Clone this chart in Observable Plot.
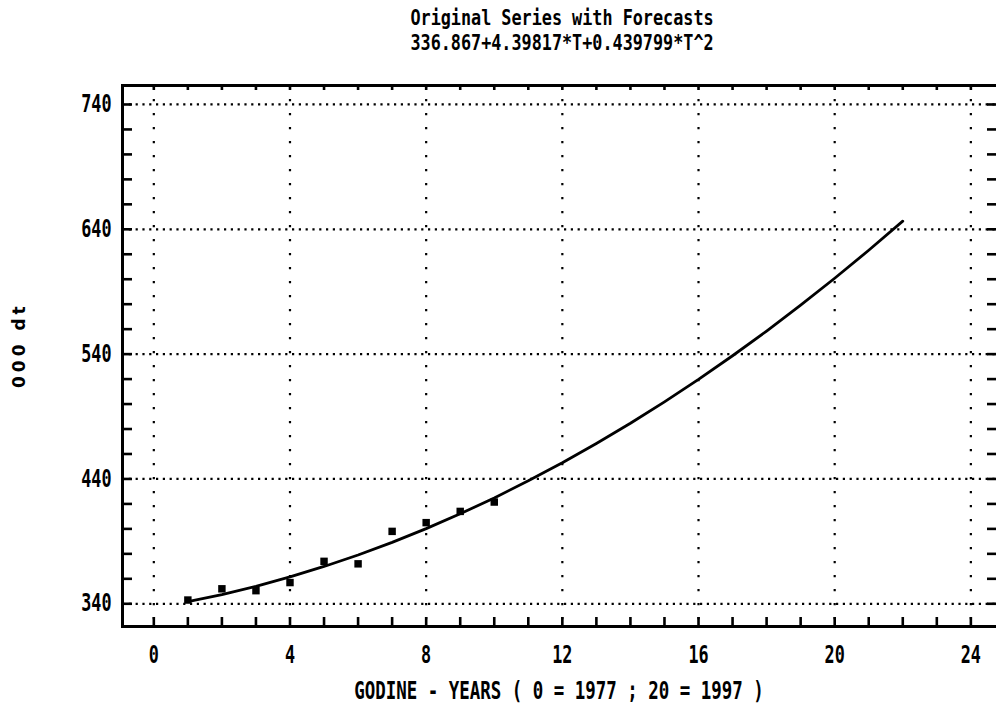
<!DOCTYPE html>
<html><head><meta charset="utf-8">
<script src="https://cdn.jsdelivr.net/npm/d3@7"></script>
<script src="https://cdn.jsdelivr.net/npm/@observablehq/plot@0.6"></script>
<style>
html,body{margin:0;padding:0;background:#fff;overflow:hidden;}
#chart svg{overflow:hidden;display:block;}
</style></head><body><div id="chart"></div>
<script>
const titleLine1 = "Original Series with Forecasts";
const titleLine2 = "336.867+4.39817*T+0.439799*T^2";
const xTitle = "GODINE - YEARS ( 0 = 1977 ; 20 = 1997 )";
const yTitle = "000 dt";

// observed series (T = 1..10)
const obsT = [1, 2, 3, 4, 5, 6, 7, 8, 9, 10];
const obsValue = [343, 352, 350.5, 357, 374, 372, 398, 405, 414, 421.5];

// fitted / forecast curve (T = 1..22)
const fitT = [1, 2, 3, 4, 5, 6, 7, 8, 9, 10, 11, 12, 13, 14, 15, 16, 17, 18, 19, 20, 21, 22];
const fitValue = [341.7, 347.4, 354.0, 361.5, 369.9, 379.1, 389.2, 400.2, 412.1, 424.8, 438.5,
  453.0, 468.4, 484.6, 501.8, 519.8, 538.7, 558.5, 579.2, 600.8, 623.2, 646.5];

const xMajorTicks = [0, 4, 8, 12, 16, 20, 24];
const xMinorTicks = [0, 1, 2, 3, 4, 5, 6, 7, 8, 9, 10, 11, 12, 13, 14, 15, 16, 17, 18, 19, 20, 21, 22, 23, 24];
const yMajorTicks = [340, 440, 540, 640, 740];
const yMinorTicks = [340, 360, 380, 400, 420, 440, 460, 480, 500, 520, 540, 560, 580, 600, 620, 640, 660, 680, 700, 720, 740];

const observed = obsT.map((t, i) => ({t, v: obsValue[i]}));
const fitted = fitT.map((t, i) => ({t, v: fitValue[i]}));

const MONO = "'DejaVu Sans Mono', 'Liberation Mono', monospace";
const SANS = "'DejaVu Sans', 'Liberation Sans', sans-serif";

const W = 996, H = 708, ML = 122, MR = -5, MT = 85, MB = 82;
const frameW = W - ML - MR, frameH = H - MT - MB;

const tickStyle = {stroke: "black", strokeWidth: 2.6};

const chart = Plot.plot({
  width: W,
  height: H,
  marginLeft: ML,
  marginRight: MR,
  marginTop: MT,
  marginBottom: MB,
  style: {fontFamily: MONO, background: "#fff", color: "black"},
  x: {domain: [-0.92, 24.9]},
  y: {domain: [321.8, 755.2]},
  marks: [
    Plot.gridX(xMajorTicks, {stroke: "black", strokeOpacity: 1, strokeWidth: 2.2, strokeDasharray: "2.2,11.8"}),
    Plot.gridY(yMajorTicks, {stroke: "black", strokeOpacity: 1, strokeWidth: 2.2, strokeDasharray: "2.2,4.6"}),
    Plot.line(fitted, {x: "t", y: "v", stroke: "black", strokeWidth: 2.8}),
    Plot.dot(observed, {x: "t", y: "v", symbol: "square", r: 4.2, fill: "black", stroke: null}),
    Plot.frame({stroke: "black", strokeWidth: 3}),
    // inward tick marks on all four sides of the frame
    Plot.ruleX(xMinorTicks, {x: d => d, insetTop: frameH - 9, ...tickStyle}),
    Plot.ruleX(xMinorTicks, {x: d => d, insetBottom: frameH - 5, ...tickStyle}),
    Plot.ruleY(yMinorTicks, {y: d => d, insetRight: frameW - 10, ...tickStyle}),
    Plot.ruleY(yMinorTicks, {y: d => d, insetLeft: frameW - 14, ...tickStyle}),
    Plot.axisX(xMajorTicks, {anchor: "bottom", tickSize: 0, tickPadding: 19, fontSize: 24, fontWeight: "bold", tickFormat: d => String(d), label: null}),
    Plot.axisY(yMajorTicks, {anchor: "left", tickSize: 0, tickPadding: 11, fontSize: 24, fontWeight: "bold", tickFormat: d => String(d), label: null}),
    Plot.text([titleLine1], {frameAnchor: "top", dy: -67, text: d => d, fontSize: 21, fontWeight: "bold", lineAnchor: "middle", fill: "black"}),
    Plot.text([titleLine2], {frameAnchor: "top", dy: -42, text: d => d, fontSize: 21, fontWeight: "bold", lineAnchor: "middle", fill: "black"}),
    Plot.text([xTitle], {frameAnchor: "bottom", dx: -3, dy: 65, text: d => d, fontSize: 24, fontWeight: "bold", lineAnchor: "middle", fill: "black"}),
    Plot.text([yTitle], {frameAnchor: "left", dx: -103, dy: 32, rotate: -90, text: d => d, fontSize: 17, fontWeight: "bold", fontFamily: SANS, lineAnchor: "middle", fill: "black"})
  ]
});

// narrow the monospace lettering horizontally, like the tall narrow printer font of the original
const narrow = new Map([[titleLine1, 0.8], [titleLine2, 0.8], [xTitle, 0.727]]);
d3.select(chart).selectAll("text").each(function() {
  if (this.textContent === yTitle) {
    this.style.letterSpacing = "4px";
    return;
  }
  const s = narrow.get(this.textContent) ?? 0.7;
  const x = +(this.getAttribute("x") || 0);
  const t = this.getAttribute("transform") || "";
  this.setAttribute("transform", `${t} translate(${x},0) scale(${s},1) translate(${-x},0)`);
});

document.getElementById("chart").appendChild(chart);
</script>
</body></html>
